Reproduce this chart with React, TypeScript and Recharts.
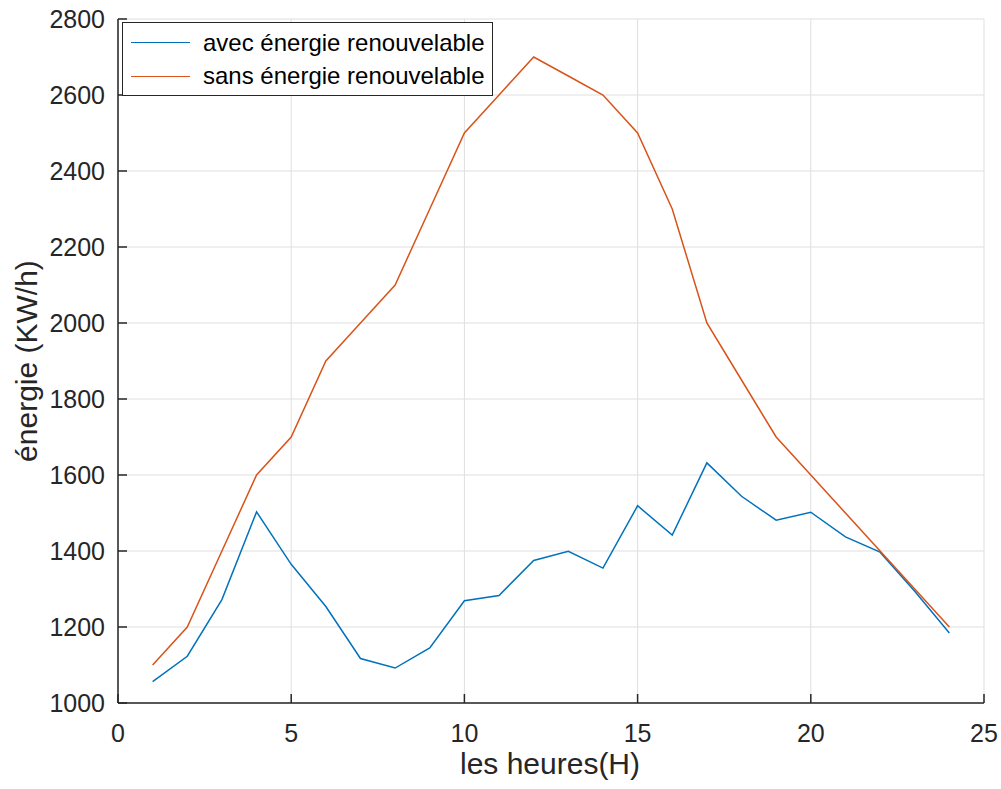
import React from 'react';
import { LineChart, Line, XAxis, YAxis, CartesianGrid, Legend } from 'recharts';

const hours = [1, 2, 3, 4, 5, 6, 7, 8, 9, 10, 11, 12, 13, 14, 15, 16, 17, 18, 19, 20, 21, 22, 23, 24];
const avecRenouvelable = [1056, 1123, 1272, 1503, 1365, 1254, 1117, 1092, 1145, 1269, 1283, 1375, 1399, 1355, 1519, 1442, 1632, 1544, 1481, 1502, 1437, 1397, 1294, 1184];
const sansRenouvelable = [1100, 1200, 1400, 1600, 1700, 1900, 2000, 2100, 2300, 2500, 2600, 2700, 2650, 2600, 2500, 2300, 2000, 1850, 1700, 1600, 1500, 1400, 1300, 1200];
const xTicks = [0, 5, 10, 15, 20, 25];
const yTicks = [1000, 1200, 1400, 1600, 1800, 2000, 2200, 2400, 2600, 2800];

const series = [
  { key: 'avec', name: 'avec énergie renouvelable', color: '#0072BD' },
  { key: 'sans', name: 'sans énergie renouvelable', color: '#D95319' },
];

const data = hours.map((h, i) => ({
  hour: h,
  avec: avecRenouvelable[i],
  sans: sansRenouvelable[i],
}));

const FONT = '"Liberation Sans", Arial, Helvetica, sans-serif';
const AXIS = '#262626';

const LegendBox = () => (
  <div
    style={{
      width: 369,
      height: 72,
      border: '1px solid #262626',
      background: '#ffffff',
      fontFamily: FONT,
      fontSize: 24,
      color: '#000',
      position: 'relative',
    }}
  >
    {series.map((s, i) => (
      <div
        key={s.key}
        style={{ position: 'absolute', left: 0, top: 3 + i * 33.5, height: 33, display: 'flex', alignItems: 'center' }}
      >
        <div style={{ marginLeft: 8, width: 59, height: 0, borderTop: `1.5px solid ${s.color}` }} />
        <span style={{ marginLeft: 13, whiteSpace: 'nowrap' }}>{s.name}</span>
      </div>
    ))}
  </div>
);

export default function App() {
  return (
    <div style={{ position: 'absolute', left: 0, top: 0, width: 1001, height: 789, background: '#fff' }}>
      <LineChart width={1001} height={789} data={data} margin={{ top: 19, right: 17, bottom: 0, left: 58 }}>
        <CartesianGrid stroke="#dfdfdf" strokeWidth={1} horizontalValues={yTicks} verticalValues={xTicks} />
        <XAxis
          dataKey="hour"
          type="number"
          domain={[0, 25]}
          ticks={xTicks}
          height={86}
          stroke={AXIS}
          strokeWidth={1.5}
          tickSize={-9}
          tickMargin={30}
          tick={{ fill: AXIS, fontSize: 25, fontFamily: FONT }}
          label={{
            content: () => (
              <text x={550} y={774} textAnchor="middle" fill={AXIS} fontSize={30} fontFamily={FONT}>
                les heures(H)
              </text>
            ),
          }}
        />
        <YAxis
          type="number"
          domain={[1000, 2800]}
          ticks={yTicks}
          width={60}
          stroke={AXIS}
          strokeWidth={1.5}
          tickSize={-9}
          tickMargin={22}
          tick={{ fill: AXIS, fontSize: 25, fontFamily: FONT }}
          label={{
            content: () => (
              <text
                x={26}
                y={361}
                transform="rotate(-90 26 361)"
                textAnchor="middle"
                dominantBaseline="central"
                fill={AXIS}
                fontSize={30}
                fontFamily={FONT}
              >
                énergie (KW/h)
              </text>
            ),
          }}
        />
        <Legend
          layout="vertical"
          align="center"
          verticalAlign="middle"
          content={() => <LegendBox />}
          wrapperStyle={{ left: 122, top: 22, width: 371, height: 74 }}
        />
        {series.map((s) => (
          <Line
            key={s.key}
            type="linear"
            dataKey={s.key}
            name={s.name}
            stroke={s.color}
            strokeWidth={1.5}
            dot={false}
            activeDot={false}
            isAnimationActive={false}
          />
        ))}
      </LineChart>
    </div>
  );
}
